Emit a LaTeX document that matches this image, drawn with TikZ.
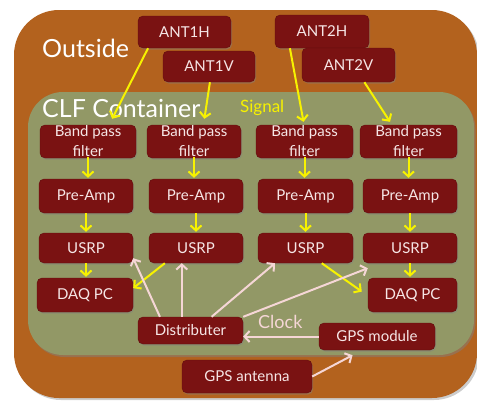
\documentclass[tikz,border=0pt]{standalone}
\usepackage{fontspec}
\setmainfont{Lato}
\usetikzlibrary{arrows.meta,calc,shadows}
\definecolor{brownbg}{HTML}{B3621E}
\definecolor{greenbg}{HTML}{929866}
\definecolor{boxred}{HTML}{7A1212}
\definecolor{boxtext}{HTML}{F6E6E6}
\definecolor{sigyel}{HTML}{F7F200}
\definecolor{clkpink}{HTML}{F5D6D6}
\tikzset{
  box/.style={draw=boxred!80!black, line width=0.4pt, fill=boxred, rounded corners=5pt, text=boxtext,
    font=\fontsize{15}{20}\selectfont, align=center, inner sep=0pt,
    drop shadow={shadow xshift=1pt, shadow yshift=-1.5pt, opacity=0.45}},
  sig/.style={draw=sigyel, line width=2pt, -{Straight Barb[length=5pt,width=11pt,line width=2pt]}},
  clk/.style={draw=clkpink, line width=2pt, -{Straight Barb[length=5pt,width=11pt,line width=2pt]}},
  biglabel/.style={text=white, font=\fontsize{25}{28}\selectfont, inner sep=0pt, anchor=base west},
}
\begin{document}
\begin{tikzpicture}[x=1pt,y=-1pt]
\useasboundingbox[fill=white] (0,0) rectangle (477,400);
% outer and inner areas
\fill[brownbg, rounded corners=45pt, drop shadow={shadow xshift=2pt, shadow yshift=-2pt, opacity=0.4}] (14,10) rectangle (477,398);
\fill[greenbg, rounded corners=35pt, drop shadow={shadow xshift=1.5pt, shadow yshift=-2pt, opacity=0.5}] (28,92) rectangle (474,355);
% labels
\node[biglabel] (outside) at (42,57) {Outside};
\node[biglabel] (clf) at (42,117) {CLF Container};
\node[text=sigyel, font=\fontsize{17}{19}\selectfont, inner sep=0pt, anchor=base west] (signal) at (240,112) {Signal};
\node[text=clkpink, font=\fontsize{18}{20}\selectfont, inner sep=0pt, anchor=base west] (clock) at (258,328) {Clock};
% boxes
\node[box, minimum width=93pt, minimum height=32pt] (ant1h) at (184.5,32) {ANT1H};
\node[box, minimum width=92pt, minimum height=31pt] (ant1v) at (209,66.5) {ANT1V};
\node[box, minimum width=94pt, minimum height=33pt] (ant2h) at (322,31.5) {ANT2H};
\node[box, minimum width=93pt, minimum height=34pt] (ant2v) at (348.5,65) {ANT2V};
\node[box, minimum width=96pt, minimum height=33pt] (bpf1) at (88,141.5) {Band pass\\filter};
\node[box, minimum width=94pt, minimum height=33pt] (bpf2) at (194,141.5) {Band pass\\filter};
\node[box, minimum width=97pt, minimum height=33pt] (bpf3) at (304.5,141.5) {Band pass\\filter};
\node[box, minimum width=97pt, minimum height=33pt] (bpf4) at (408.5,141.5) {Band pass\\filter};
\node[box, minimum width=94pt, minimum height=34pt] (pa1) at (86,196) {Pre-Amp};
\node[box, minimum width=94pt, minimum height=34pt] (pa2) at (196,196) {Pre-Amp};
\node[box, minimum width=95pt, minimum height=34pt] (pa3) at (305.5,196) {Pre-Amp};
\node[box, minimum width=94pt, minimum height=34pt] (pa4) at (410,196) {Pre-Amp};
\node[box, minimum width=94pt, minimum height=30pt] (usrp1) at (86,248) {USRP};
\node[box, minimum width=94pt, minimum height=30pt] (usrp2) at (196,248) {USRP};
\node[box, minimum width=95pt, minimum height=30pt] (usrp3) at (305.5,248) {USRP};
\node[box, minimum width=94pt, minimum height=30pt] (usrp4) at (410,248) {USRP};
\node[box, minimum width=96pt, minimum height=34pt] (daq1) at (85,295) {DAQ PC};
\node[box, minimum width=89pt, minimum height=34pt] (daq2) at (412.5,295) {DAQ PC};
\node[box, minimum width=105pt, minimum height=27pt] (dist) at (190.5,330.5) {Distributer};
\node[box, minimum width=116pt, minimum height=27pt] (gpsm) at (377,336.5) {GPS module};
\node[box, minimum width=130pt, minimum height=33pt] (gpsa) at (247,376.5) {GPS antenna};
% signal arrows
\draw[sig] ($(ant1h.south west)!0.11!(ant1h.south east)$) -- ($(bpf1.north west)!0.75!(bpf1.north east)+(0,-6)$);
\draw[sig] ($(ant1v.south west)!0.51!(ant1v.south east)$) -- ($(bpf2.north west)!0.61!(bpf2.north east)+(0,-6)$);
\draw[sig] ($(ant2h.south west)!0.16!(ant2h.south east)$) -- ($(bpf3.north west)!0.49!(bpf3.north east)+(0,-3)$);
\draw[sig] ($(ant2v.south west)!0.67!(ant2v.south east)$) -- ($(bpf4.north west)!0.31!(bpf4.north east)+(0,-3)$);
\foreach \i in {1,2,3,4}{
  \draw[sig] ($(bpf\i.south)+(0,-1)$) -- ($(bpf\i.south |- pa\i.north)+(0,-1)$);
  \draw[sig] (pa\i.south) -- ($(pa\i.south |- usrp\i.north)+(0,-1)$);
}
\draw[sig] (usrp1.south) -- ($(usrp1.south |- daq1.north)+(0,-1)$);
\draw[sig] (usrp4.south) -- ($(usrp4.south |- daq2.north)+(0,-1)$);
\draw[sig] ($(usrp2.south west)!0.17!(usrp2.south east)$) -- ($(daq1.north east)!0.3!(daq1.south east)$);
\draw[sig] ($(usrp3.south west)!0.67!(usrp3.south east)$) -- ($(daq2.north west)!0.4!(daq2.south west)+(-6,0)$);
% clock arrows
\coordinate (d2) at ($(dist.north west)+(44,0)$);
\draw[clk] ($(dist.north west)!0.21!(dist.north east)$) -- ($(usrp1.south east)+(0,-5)$);
\draw[clk] (d2) -- (d2 |- usrp2.south);
\draw[clk] ($(dist.north west)!0.7!(dist.north east)$) -- ($(usrp3.south west)!0.18!(usrp3.south east)$);
\draw[clk] (dist.north east) -- ($(usrp4.south west)+(5,5)$);
\draw[clk] (gpsm.west) -- (gpsm.west -| dist.east);
\draw[clk] (gpsa.east) -- ($(gpsm.south west)!0.29!(gpsm.south east)+(0,5)$);
\end{tikzpicture}
\end{document}
